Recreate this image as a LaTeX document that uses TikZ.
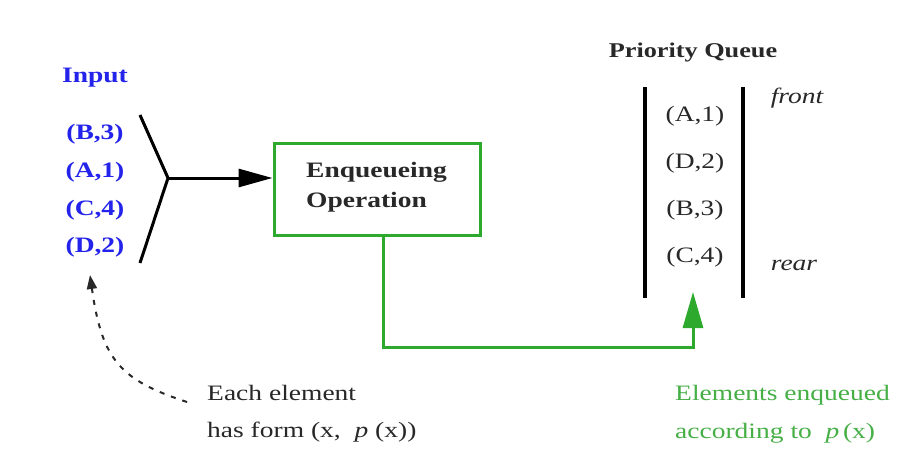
\documentclass[tikz,border=0pt]{standalone}
\usepackage{fontspec}
\setmainfont[FakeStretch=1.25]{Liberation Serif}
\usetikzlibrary{arrows.meta}
\definecolor{inblue}{RGB}{35,35,235}
\definecolor{boxgreen}{RGB}{45,170,45}
\definecolor{txtgreen}{RGB}{70,175,70}
\definecolor{txtgray}{RGB}{40,40,40}
\tikzset{
  lbl/.style={inner sep=0pt, font=\fontsize{22}{30}\selectfont},
  inlbl/.style={lbl, text=inblue, font=\fontsize{22}{30}\selectfont\bfseries},
  qlbl/.style={lbl, text=txtgray},
  opbox/.style={draw=boxgreen, line width=3pt, minimum width=206pt, minimum height=92pt, inner sep=0pt},
}
\begin{document}
\begin{tikzpicture}[x=1pt,y=-1pt]
\useasboundingbox (0,0) rectangle (908,460);
\fill[white] (0,0) rectangle (908,460);
% input
\node[inlbl] (input) at (95,78) {Input};
\node[inlbl] (i1) at (95,134) {(B,3)};
\node[inlbl] (i2) at (95,172) {(A,1)};
\node[inlbl] (i3) at (95,210) {(C,4)};
\node[inlbl] (i4) at (95,247) {(D,2)};
\coordinate (ytop) at (140,115);
\coordinate (j) at (168,178);
\coordinate (ybot) at (140,263);
\draw[line width=3pt] (ytop) -- (j) -- (ybot);
% box
\node[opbox] (box) at (377,189) {};
\node[lbl, anchor=west, align=left, font=\fontsize{22}{30}\selectfont\bfseries, text=txtgray] (optext) at (306,187) {Enqueueing\\Operation};
\draw[line width=3pt, -{Triangle[length=34pt,width=18pt]}] (j) -- (j -| box.west);
% queue
\node[lbl, font=\fontsize{21}{30}\selectfont\bfseries, text=txtgray] (pq) at (693,52) {Priority Queue};
\coordinate (lt) at (645,87);
\coordinate (lb) at (645,298);
\coordinate (rt) at (743,87);
\coordinate (rb) at (743,298);
\draw[line width=4pt] (lt) -- (lb);
\draw[line width=4pt] (rt) -- (rb);
\node[qlbl] (q1) at (695,116) {(A,1)};
\node[qlbl] (q2) at (695,163) {(D,2)};
\node[qlbl] (q3) at (695,210) {(B,3)};
\node[qlbl] (q4) at (695,257) {(C,4)};
\node[qlbl, font=\fontsize{22}{30}\selectfont\itshape] (front) at (797,98) {front};
\node[qlbl, font=\fontsize{22}{30}\selectfont\itshape] (rear) at (794,265) {rear};
% green connector
\coordinate (qin) at (693,292);
\draw[boxgreen, line width=3pt, -{Triangle[length=36pt,width=20pt]}] ([xshift=6pt]box.south) -- ++(0,111) -| (qin);
% notes
\node[lbl, anchor=west, align=left, text=txtgray, font=\fontsize{22}{37}\selectfont] (each) at (207,414) {Each element\\has form (x,\ \ \textit{p}\ (x))};
\node[lbl, anchor=west, align=left, text=txtgreen, font=\fontsize{22}{38}\selectfont] (enq) at (675,414) {Elements enqueued\\according to\ \ \textit{p}\,(x)};
% dashed arrow
\coordinate (dstart) at (187,402);
\coordinate (dtip) at (90,275);
\draw[line width=2pt, dash pattern=on 5pt off 7pt, color=txtgray, -{Triangle[length=14pt,width=10pt]}] (dstart) .. controls (120,380) and (102,360) .. (dtip);
\end{tikzpicture}
\end{document}
